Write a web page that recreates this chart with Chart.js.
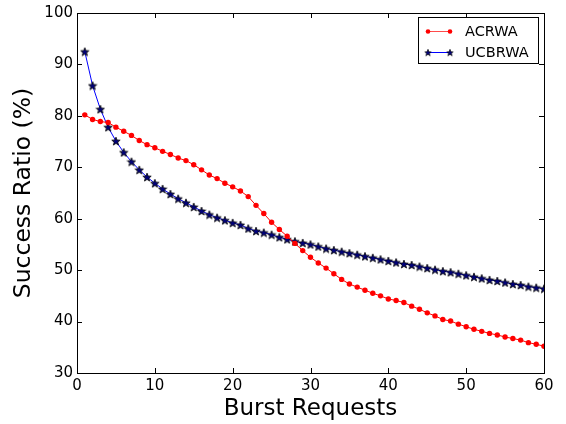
<!DOCTYPE html>
<html>
<head>
<meta charset="utf-8">
<script src="https://cdn.jsdelivr.net/npm/chart.js@4.4.1/dist/chart.umd.min.js"></script>
<style>
  html, body { margin: 0; padding: 0; background: #fff; }
</style>
</head>
<body>
<canvas id="chart" width="566" height="424"></canvas>
<script>
// Burst requests (x)
const burst = [1,2,3,4,5,6,7,8,9,10,11,12,13,14,15,16,17,18,19,20,
               21,22,23,24,25,26,27,28,29,30,31,32,33,34,35,36,37,38,39,40,
               41,42,43,44,45,46,47,48,49,50,51,52,53,54,55,56,57,58,59,60];

// Success ratio (%)
const acrwa = [80.2,79.3,78.9,78.7,77.8,77.0,76.2,75.2,74.4,73.8,
               73.1,72.5,71.8,71.3,70.5,69.5,68.5,67.8,66.9,66.2,
               65.4,64.3,62.6,61.0,59.3,57.9,56.6,55.2,53.8,52.5,
               51.4,50.4,49.3,48.2,47.3,46.7,46.1,45.5,45.0,44.4,
               44.1,43.7,43.0,42.4,41.7,41.1,40.4,40.1,39.5,39.0,
               38.5,38.1,37.7,37.4,37.0,36.7,36.4,35.9,35.6,35.2];
const ucbrwa = [92.5,85.9,81.3,77.8,75.1,72.9,71.1,69.5,68.1,66.9,
                65.8,64.8,63.9,63.1,62.3,61.5,60.8,60.2,59.7,59.2,
                58.8,58.1,57.6,57.3,56.9,56.4,56.0,55.6,55.3,55.0,
                54.6,54.2,53.9,53.6,53.3,53.0,52.7,52.4,52.1,51.8,
                51.5,51.2,51.0,50.7,50.4,50.1,49.8,49.6,49.3,49.0,
                48.7,48.4,48.1,47.9,47.6,47.3,47.1,46.8,46.6,46.4];

const seriesNames = ["ACRWA", "UCBRWA"];
const xTicks = [0,10,20,30,40,50,60];
const yTicks = [30,40,50,60,70,80,90,100];

const FONT = "'DejaVu Sans', sans-serif";

// filled 5-point star marker
function makeStar(size) {
    const c = document.createElement("canvas");
    c.width = size; c.height = size;
    const g = c.getContext("2d");
    const cx = size/2, cy = size/2 + 0.5, R = size/2 - 0.6, r = R*0.42;
    g.beginPath();
    for (let i = 0; i < 10; i++) {
        const a = -Math.PI/2 + i*Math.PI/5;
        const rad = i % 2 ? r : R;
        g.lineTo(cx + rad*Math.cos(a), cy + rad*Math.sin(a));
    }
    g.closePath();
    g.fillStyle = "#00007a";
    g.fill();
    g.lineWidth = 0.8;
    g.strokeStyle = "#000";
    g.stroke();
    return c;
}
const star = makeStar(10);

// box around the plot, inward ticks on all sides, legend
const framePlugin = {
    id: "frame",
    afterDraw(chart) {
        const ctx = chart.ctx, a = chart.chartArea;
        const xs = chart.scales.x, ys = chart.scales.y;
        ctx.save();
        ctx.strokeStyle = "#000";
        ctx.lineWidth = 1;
        ctx.strokeRect(Math.round(a.left)+0.5, Math.round(a.top)+0.5,
                       Math.round(a.right-a.left), Math.round(a.bottom-a.top));
        ctx.beginPath();
        xTicks.forEach(v => {
            const px = Math.round(xs.getPixelForValue(v)) + 0.5;
            ctx.moveTo(px, a.bottom); ctx.lineTo(px, a.bottom - 5);
            ctx.moveTo(px, a.top); ctx.lineTo(px, a.top + 5);
        });
        yTicks.forEach(v => {
            const py = Math.round(ys.getPixelForValue(v)) + 0.5;
            ctx.moveTo(a.left, py); ctx.lineTo(a.left + 5, py);
            ctx.moveTo(a.right, py); ctx.lineTo(a.right - 5, py);
        });
        ctx.stroke();

        // legend
        const lx = 418.5, ly = 17.5, lw = 120, lh = 46;
        ctx.fillStyle = "#fff";
        ctx.fillRect(lx, ly, lw, lh);
        ctx.strokeRect(lx, ly, lw, lh);
        ctx.font = "14.5px " + FONT;
        ctx.textBaseline = "middle";
        const rows = [
            {y: 31.5, color: "rgba(255,0,0,0.7)", dot: "#ff0000"},
            {y: 52.5, color: "#0000ff", dot: "#00007a"}
        ];
        rows.forEach((r, i) => {
            ctx.strokeStyle = r.color;
            ctx.beginPath();
            ctx.moveTo(428, r.y); ctx.lineTo(450, r.y);
            ctx.stroke();
            if (i === 0) {
                ctx.fillStyle = r.dot;
                [428, 450].forEach(px => {
                    ctx.beginPath(); ctx.arc(px, r.y, 2.3, 0, Math.PI*2); ctx.fill();
                });
            } else {
                [428, 450].forEach(px => ctx.drawImage(star, px - 4, r.y - 4, 8, 8));
            }
            ctx.fillStyle = "#000";
            ctx.fillText(seriesNames[i], 465, r.y + 0.5);
        });
        ctx.restore();
    }
};

new Chart(document.getElementById("chart"), {
    type: "line",
    data: {
        datasets: [
            {
                label: seriesNames[0],
                data: burst.map((x, i) => ({x: x, y: acrwa[i]})),
                borderColor: "#ff0000",
                backgroundColor: "#ff0000",
                borderWidth: 1,
                pointRadius: 2.7,
                pointBorderWidth: 0,
                pointStyle: "circle",
                tension: 0,
                clip: 0
            },
            {
                label: seriesNames[1],
                data: burst.map((x, i) => ({x: x, y: ucbrwa[i]})),
                borderColor: "#0000ff",
                backgroundColor: "#00007a",
                borderWidth: 1,
                pointStyle: star,
                tension: 0,
                clip: 0
            }
        ]
    },
    options: {
        responsive: false,
        animation: false,
        layout: { padding: { top: 11, right: 22, left: 0, bottom: 0 } },
        plugins: { legend: { display: false }, tooltip: { enabled: false } },
        scales: {
            x: {
                type: "linear",
                min: 0, max: 60,
                afterBuildTicks: s => { s.ticks = xTicks.map(v => ({value: v})); },
                afterFit: s => { s.height = 51; },
                grid: { display: false, drawTicks: false },
                border: { display: false },
                ticks: { color: "#000", font: { family: FONT, size: 15 }, padding: 4, maxRotation: 0 },
                title: { display: true, text: "Burst Requests", color: "#000",
                         font: { family: FONT, size: 23 }, padding: { top: 0, bottom: 1.5 } }
            },
            y: {
                min: 30, max: 100,
                afterBuildTicks: s => { s.ticks = yTicks.map(v => ({value: v})); },
                afterFit: s => { s.width = 77; },
                grid: { display: false, drawTicks: false },
                border: { display: false },
                ticks: { color: "#000", font: { family: FONT, size: 15 }, padding: 4 },
                title: { display: true, text: "Success Ratio (%)", color: "#000",
                         font: { family: FONT, size: 23.5 }, padding: { top: 10, bottom: 0 } }
            }
        }
    },
    plugins: [framePlugin]
});
</script>
</body>
</html>
